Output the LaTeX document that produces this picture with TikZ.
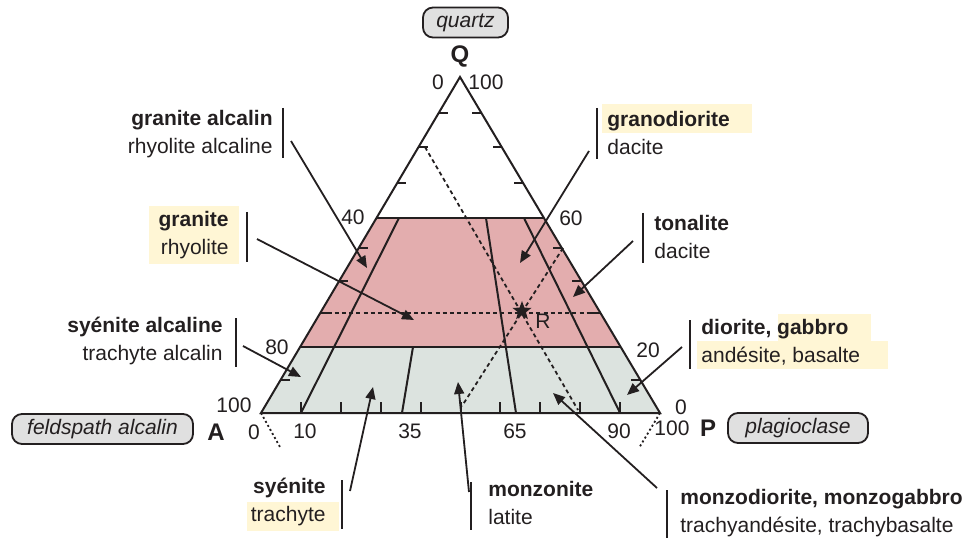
\documentclass[tikz,border=0pt]{standalone}
\usepackage{fontspec}
\setmainfont{Liberation Sans}
\usetikzlibrary{arrows.meta,calc,shapes.geometric}
\definecolor{ink}{HTML}{231F20}
\definecolor{felsic}{HTML}{E3ADAE}
\definecolor{band}{HTML}{DCE3DF}
\definecolor{hilite}{HTML}{FFF6D5}
\definecolor{pillgrey}{HTML}{E0E0E0}
\begin{document}
\begin{tikzpicture}[x=0.5pt,y=-0.5pt,
  every node/.style={text=ink, inner sep=0pt, font=\fontsize{10.5}{14}\selectfont},
  edge/.style={draw=ink, line width=1pt},
  bar/.style={draw=ink, line width=1.2pt},
  pointer/.style={draw=ink, line width=0.9pt, -{Triangle[length=6pt,width=5pt]}},
  guide/.style={draw=ink, line width=0.9pt, dash pattern=on 2pt off 1.6pt},
  corner/.style={font=\fontsize{12}{14}\selectfont\bfseries},
  pill/.style={draw=ink, fill=pillgrey, line width=0.9pt, rounded corners=5pt,
    minimum height=15pt, font=\fontsize{10.5}{14}\selectfont\itshape}]
\useasboundingbox (0,0) rectangle (976,540);
\coordinate (A) at (261,413);
\coordinate (P) at (660,413);
\coordinate (Q) at (460,77);

% fields
\fill[felsic] ($(A)!.196!(Q)$) -- ($(A)!.58!(Q)$) -- ($(P)!.58!(Q)$) -- ($(P)!.196!(Q)$) -- cycle;
\fill[band] (A) -- ($(A)!.196!(Q)$) -- ($(P)!.196!(Q)$) -- (P) -- cycle;

% highlights
\fill[hilite] (602,104) rectangle (752,133);
\fill[hilite] (778,314) rectangle (871,341);
\fill[hilite] (697,341) rectangle (888,369);
\fill[hilite] (247,502) rectangle (339,531);

% field boundaries
\draw[edge] ($(A)!.196!(Q)$) -- ($(P)!.196!(Q)$);
\draw[edge] ($(A)!.58!(Q)$) -- ($(P)!.58!(Q)$);
\draw[edge] ($(A)!.1!(P)$) -- (399,218);
\draw[edge] (402,413) -- (413,347);
\draw[edge] (516,413) -- (486,218);
\draw[edge] ($(A)!.9!(P)$) -- (524,218);
\draw[edge, line join=miter] (A) -- (P) -- (Q) -- cycle;

% ticks
\foreach \f in {.098,.196,.298,.393,.491,.685,.792,.893} {
  \draw[edge] ($(A)!\f!(Q)$) -- ++(9,0);
  \draw[edge] ($(P)!\f!(Q)$) -- ++(-9,0);
}
\foreach \f in {.1,.2,.3,.4,.5,.6,.7,.8,.9}
  \draw[edge] ($(A)!\f!(P)$) -- ++(0,-11);

% reading lines through R
\draw[guide] (425,147) -- (578,410);
\draw[guide] (563,248) -- (462,406);
\draw[guide] ($(A)!.298!(Q)$) -- ($(P)!.298!(Q)$);
\draw[draw=ink, line width=0.9pt, dash pattern=on 1pt off 1.3pt] (A) -- (280,447);
\draw[draw=ink, line width=0.9pt, dash pattern=on 1pt off 1.3pt] (P) -- (639,448);
\node[star, star points=5, star point ratio=2.4, fill=ink, minimum size=10pt] (R) at (522,311) {};
\node (Rlab) at (543,321) {R};

% vertices and scales
\node[pill, minimum width=42.5pt] (quartz) at (465.5,22.5) {quartz};
\node[pill, minimum width=90.5pt] (feld) at (102.5,429) {feldspath alcalin};
\node[pill, minimum width=70pt] (plag) at (798,428) {plagioclase};
\node[corner] (Qlab) at (460,56) {Q};
\node[corner] (Alab) at (216,432) {A};
\node[corner] (Plab) at (708,428) {P};
\node (q0) at (438,82) {0};
\node (q100) at (486,82) {100};
\node (l40) at (353,217) {40};
\node (r60) at (571,218) {60};
\node (l80) at (277,347) {80};
\node (r20) at (648,350) {20};
\node (a100) at (234,405) {100};
\node (a0) at (254,432) {0};
\node (b10) at (305,431) {10};
\node (b35) at (410,431) {35};
\node (b65) at (515,431) {65};
\node (b90) at (619,431) {90};
\node (p0) at (681,407) {0};
\node (p100) at (672,428) {100};

% rock names
\node[anchor=east, align=right] (galc) at (273,134) {\textbf{granite alcalin}\\rhyolite alcaline};
\node[anchor=east, align=right, fill=hilite, inner xsep=5pt, inner ysep=2.5pt] (gran) at (239,235) {\textbf{granite}\\rhyolite};
\node[anchor=east, align=right] (syalc) at (223,341) {\textbf{syénite alcaline}\\trachyte alcalin};
\node[anchor=west, align=left] (grano) at (607,133) {\textbf{granodiorite}\\dacite};
\node[anchor=west, align=left] (tonal) at (654,237) {\textbf{tonalite}\\dacite};
\node[anchor=west, align=left] (dior) at (701,342) {\textbf{diorite, gabbro}\\andésite, basalte};
\node[anchor=east, align=right] (syen) at (326,502) {\textbf{syénite}\\trachyte};
\node[anchor=west, align=left] (monz) at (488,503) {\textbf{monzonite}\\latite};
\node[anchor=west, align=left] (mzd) at (680,513) {\textbf{monzodiorite, monzogabbro}\\trachyandésite, trachybasalte};

\draw[bar] (283,108) -- (283,158);
\draw[bar] (247,212) -- (247,262);
\draw[bar] (236,318) -- (236,367);
\draw[bar] (597,108) -- (597,159);
\draw[bar] (643,213) -- (643,263);
\draw[bar] (690,320) -- (690,369);
\draw[bar] (342,480) -- (342,529);
\draw[bar] (471,482) -- (471,530);
\draw[bar] (667,490) -- (667,538);

% pointers
\coordinate (s-galc) at (291,141);   \coordinate (t-galc) at (367,268);
\coordinate (s-gran) at (257,239);   \coordinate (t-gran) at (414,320);
\coordinate (s-syalc) at (243,346);  \coordinate (t-syalc) at (301,377);
\coordinate (s-grano) at (589,151);  \coordinate (t-grano) at (520,263);
\coordinate (s-tonal) at (633,241);  \coordinate (t-tonal) at (573,297);
\coordinate (s-dior) at (682,347);   \coordinate (t-dior) at (627,395);
\coordinate (s-syen) at (350,491);   \coordinate (t-syen) at (373,387);
\coordinate (s-monz) at (469,492);   \coordinate (t-monz) at (458,382);
\coordinate (s-mzd) at (657,488);    \coordinate (t-mzd) at (553,393);
\foreach \n in {galc,gran,syalc,grano,tonal,dior,syen,monz,mzd}
  \draw[pointer] (s-\n) -- (t-\n);
\end{tikzpicture}
\end{document}
